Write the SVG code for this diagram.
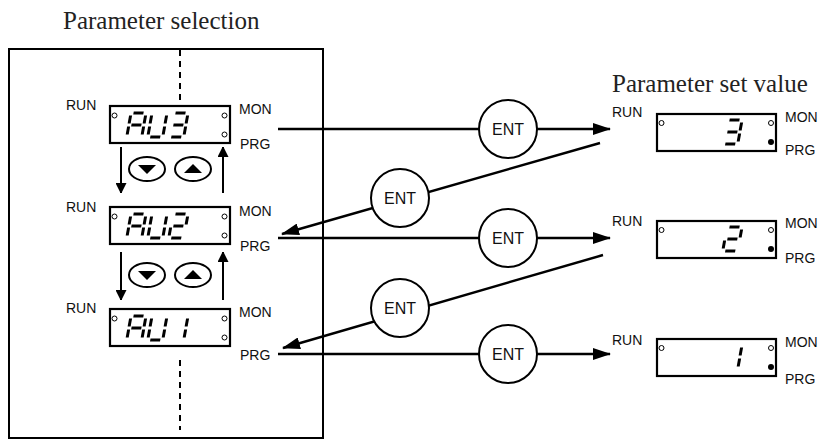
<svg xmlns="http://www.w3.org/2000/svg" xmlns:xlink="http://www.w3.org/1999/xlink" width="837" height="439" viewBox="0 0 837 439">
<style>
.lbl{font-family:"Liberation Sans",Arial,sans-serif;font-size:14px;fill:#111}
.ent{font-family:"Liberation Sans",Arial,sans-serif;font-size:16px;fill:#111;text-anchor:middle}
.ttl{font-family:"Liberation Serif","Times New Roman",serif;font-size:25px;fill:#222}
.box{fill:#fff;stroke:#000;stroke-width:2}
.disp{fill:#fff;stroke:#000;stroke-width:2.2}
.led{fill:#fff;stroke:#000;stroke-width:1}
.seg{fill:none;stroke:#000;stroke-width:3}
.conn{fill:none;stroke:#000;stroke-width:2.4}
.thin{fill:none;stroke:#000;stroke-width:2}
.dash{fill:none;stroke:#000;stroke-width:2;stroke-dasharray:6,5}
.circ{fill:#fff;stroke:#000;stroke-width:2}
.btn{fill:#fff;stroke:#000;stroke-width:2}
</style>
<defs>
<marker id="ah" markerUnits="userSpaceOnUse" markerWidth="18" markerHeight="12" refX="17" refY="6" orient="auto">
<path d="M0,0 L18,6 L0,12 z" fill="#000"/>
</marker>
<marker id="ahs" markerUnits="userSpaceOnUse" markerWidth="10" markerHeight="11" refX="10" refY="5.5" orient="auto">
<path d="M0,0 L11,5.5 L0,11 z" fill="#000"/>
</marker>
<path id="sa" d="M2.5,0 H12.5"/>
<path id="sb" d="M15,2.5 V10.5"/>
<path id="sc" d="M15,13.5 V21.5"/>
<path id="sd" d="M2.5,24 H12.5"/>
<path id="se" d="M0,13.5 V21.5"/>
<path id="sf" d="M0,2.5 V10.5"/>
<path id="sg" d="M2.5,12 H12.5"/>
<g id="dA" class="seg"><use href="#sa"/><use href="#sb"/><use href="#sc"/><use href="#se"/><use href="#sf"/><use href="#sg"/></g>
<g id="dU" class="seg"><use href="#sb"/><use href="#sc"/><use href="#sd"/><use href="#se"/><use href="#sf"/></g>
<g id="d3" class="seg"><use href="#sa"/><use href="#sb"/><use href="#sc"/><use href="#sd"/><use href="#sg"/></g>
<g id="d2" class="seg"><use href="#sa"/><use href="#sb"/><use href="#sg"/><use href="#se"/><use href="#sd"/></g>
<g id="d1" class="seg"><use href="#sb"/><use href="#sc"/></g>
</defs>

<text class="ttl" x="63" y="29">Parameter selection</text>
<text class="ttl" x="612" y="92">Parameter set value</text>

<g id="panel">
<rect class="box" x="9" y="49" width="314" height="389"/>
<path class="dash" d="M180,50 V106"/>
<path class="dash" d="M180,360 V430"/>
</g>

<g id="sel-au3">
<rect class="disp" x="110" y="106" width="120" height="37"/>
<circle class="led" cx="114.5" cy="115.5" r="2.5"/>
<circle class="led" cx="224.5" cy="115.5" r="2.5"/>
<circle class="led" cx="224.5" cy="134.5" r="2.5"/>
<use href="#dA" transform="translate(131,113) skewX(-10)"/>
<use href="#dU" transform="translate(152,113) skewX(-10)"/>
<use href="#d3" transform="translate(173,113) skewX(-10)"/>
<text class="lbl" x="66" y="110">RUN</text>
<text class="lbl" x="239" y="114">MON</text>
<text class="lbl" x="240" y="149">PRG</text>
</g>

<g id="sel-au2">
<rect class="disp" x="110" y="207" width="120" height="37"/>
<circle class="led" cx="114.5" cy="216.5" r="2.5"/>
<circle class="led" cx="224.5" cy="216.5" r="2.5"/>
<circle class="led" cx="224.5" cy="235.5" r="2.5"/>
<use href="#dA" transform="translate(131,214) skewX(-10)"/>
<use href="#dU" transform="translate(152,214) skewX(-10)"/>
<use href="#d2" transform="translate(173,214) skewX(-10)"/>
<text class="lbl" x="66" y="212">RUN</text>
<text class="lbl" x="239" y="216">MON</text>
<text class="lbl" x="240" y="251">PRG</text>
</g>

<g id="sel-au1">
<rect class="disp" x="110" y="309" width="120" height="37"/>
<circle class="led" cx="114.5" cy="318.5" r="2.5"/>
<circle class="led" cx="224.5" cy="318.5" r="2.5"/>
<circle class="led" cx="224.5" cy="337.5" r="2.5"/>
<use href="#dA" transform="translate(131,316) skewX(-10)"/>
<use href="#dU" transform="translate(152,316) skewX(-10)"/>
<use href="#d1" transform="translate(173,316) skewX(-10)"/>
<text class="lbl" x="66" y="313">RUN</text>
<text class="lbl" x="239" y="317">MON</text>
<text class="lbl" x="240" y="360">PRG</text>
</g>

<g id="keys-1">
<ellipse class="btn" cx="147" cy="169" rx="18" ry="12"/>
<path d="M138,165 H156 L147,174 z" fill="#000"/>
<ellipse class="btn" cx="193" cy="169" rx="18" ry="12"/>
<path d="M184,173 H202 L193,164 z" fill="#000"/>
</g>
<g id="keys-2">
<ellipse class="btn" cx="147" cy="275" rx="18" ry="12"/>
<path d="M138,271 H156 L147,280 z" fill="#000"/>
<ellipse class="btn" cx="193" cy="275" rx="18" ry="12"/>
<path d="M184,279 H202 L193,270 z" fill="#000"/>
</g>

<g id="val-3">
<rect class="disp" x="657" y="114" width="119" height="37"/>
<circle class="led" cx="661.5" cy="123" r="2.5"/>
<circle class="led" cx="771" cy="123" r="2.5"/>
<circle cx="771" cy="142" r="3" fill="#000"/>
<use href="#d3" transform="translate(727,120) skewX(-10)"/>
<text class="lbl" x="612" y="117">RUN</text>
<text class="lbl" x="785" y="122">MON</text>
<text class="lbl" x="785" y="155">PRG</text>
</g>

<g id="val-2">
<rect class="disp" x="657" y="221" width="119" height="37"/>
<circle class="led" cx="661.5" cy="230" r="2.5"/>
<circle class="led" cx="771" cy="230" r="2.5"/>
<circle cx="771" cy="249" r="3" fill="#000"/>
<use href="#d2" transform="translate(727,227) skewX(-10)"/>
<text class="lbl" x="612" y="226">RUN</text>
<text class="lbl" x="785" y="228">MON</text>
<text class="lbl" x="785" y="263">PRG</text>
</g>

<g id="val-1">
<rect class="disp" x="657" y="339" width="119" height="37"/>
<circle class="led" cx="661.5" cy="348" r="2.5"/>
<circle class="led" cx="771" cy="348" r="2.5"/>
<circle cx="771" cy="367" r="3" fill="#000"/>
<use href="#d1" transform="translate(727,345) skewX(-10)"/>
<text class="lbl" x="612" y="345">RUN</text>
<text class="lbl" x="785" y="347">MON</text>
<text class="lbl" x="785" y="384">PRG</text>
</g>

<g id="connectors">
<path class="thin" d="M121,147 V193" marker-end="url(#ahs)"/>
<path class="thin" d="M223,193 V147" marker-end="url(#ahs)"/>
<path class="thin" d="M121,252 V300" marker-end="url(#ahs)"/>
<path class="thin" d="M223,300 V252" marker-end="url(#ahs)"/>
<path class="conn" d="M278,129 H610" marker-end="url(#ah)"/>
<path class="conn" d="M600,143 L282,234" marker-end="url(#ah)"/>
<path class="conn" d="M278,238 H610" marker-end="url(#ah)"/>
<path class="conn" d="M603,255 L283,348" marker-end="url(#ah)"/>
<path class="conn" d="M278,354 H610" marker-end="url(#ah)"/>
</g>

<g id="ent-1"><circle class="circ" cx="508" cy="129" r="29"/><text class="ent" x="508" y="135">ENT</text></g>
<g id="ent-2"><circle class="circ" cx="400" cy="198" r="29"/><text class="ent" x="400" y="204">ENT</text></g>
<g id="ent-3"><circle class="circ" cx="508" cy="238" r="29"/><text class="ent" x="508" y="244">ENT</text></g>
<g id="ent-4"><circle class="circ" cx="400" cy="308" r="29"/><text class="ent" x="400" y="314">ENT</text></g>
<g id="ent-5"><circle class="circ" cx="508" cy="354" r="29"/><text class="ent" x="508" y="360">ENT</text></g>
</svg>
